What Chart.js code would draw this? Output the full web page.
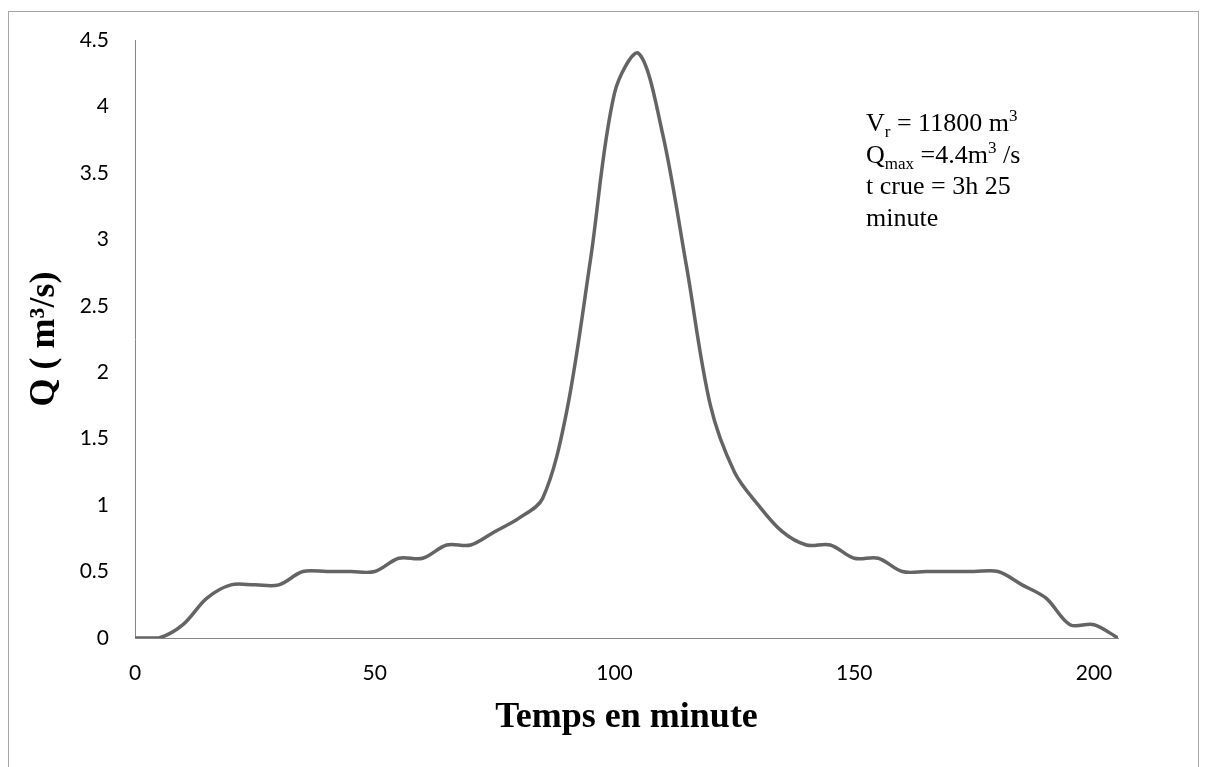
<!DOCTYPE html>
<html>
<head>
<meta charset="utf-8">
<script src="https://cdn.jsdelivr.net/npm/chart.js@4"></script>
<style>
  body { margin: 0; background: #fff; }
  #cadre { position: absolute; left: 8px; top: 11px; width: 1189px; height: 800px; border: 1px solid #a6a6a6; }
  #zone { position: absolute; left: 0; top: 0; }
  #note { position: absolute; left: 866px; top: 107px; font-family: "Liberation Serif", serif; font-size: 26px; line-height: 31.5px; color: #000; }
  #note sub, #note sup { font-size: 17px; line-height: 0; position: relative; vertical-align: baseline; }
  #note sub { top: 6px; }
  #note sup { top: -10px; }
</style>
</head>
<body>
<div id="cadre"></div>
<canvas id="zone" width="1207" height="767"></canvas>
<div id="note">
  <div>V<sub>r</sub> = 11800 m<sup>3</sup></div>
  <div>Q<sub>max</sub> =4.4m<sup>3</sup> /s</div>
  <div>t crue = 3h 25</div>
  <div>minute</div>
</div>
<script>
const temps = [0, 5, 10, 15, 20, 25, 30, 35, 40, 45, 50, 55, 60, 65, 70, 75, 80, 85, 90, 95, 100,
  105, 110, 115, 120, 125, 130, 135, 140, 145, 150, 155, 160, 165, 170, 175, 180, 185, 190, 195, 200, 205];
const debits = [0, 0, 0.1, 0.3, 0.4, 0.4, 0.4, 0.5, 0.5, 0.5, 0.5, 0.6, 0.6, 0.7, 0.7, 0.8, 0.9, 1.05, 1.7, 2.85, 4.1,
  4.4, 3.8, 2.8, 1.75, 1.25, 1.0, 0.8, 0.7, 0.7, 0.6, 0.6, 0.5, 0.5, 0.5, 0.5, 0.5, 0.4, 0.3, 0.1, 0.1, 0];
const ticksX = [0, 50, 100, 150, 200];
const ticksY = [0, 0.5, 1, 1.5, 2, 2.5, 3, 3.5, 4, 4.5];

const couleurAxe = '#868686';
const policeTicks = { family: 'Lato', size: 21 };
const policeTitre = { family: 'Liberation Serif', size: 36, weight: 'bold' };

const points = temps.map((t, i) => ({ x: t, y: debits[i] }));

new Chart(document.getElementById('zone').getContext('2d'), {
  type: 'scatter',
  data: {
    datasets: [{
      data: points,
      showLine: true,
      borderColor: '#646464',
      borderWidth: 3.5,
      pointRadius: 0,
      tension: 0.33,
      fill: false
    }]
  },
  options: {
    responsive: false,
    animation: false,
    events: [],
    layout: { padding: { top: 40, right: 89, left: 0, bottom: 0 } },
    plugins: { legend: { display: false }, tooltip: { enabled: false } },
    scales: {
      x: {
        type: 'linear',
        min: 0,
        max: 205,
        afterBuildTicks: s => { s.ticks = ticksX.map(v => ({ value: v })); },
        afterFit: s => { s.height = 129; },
        grid: { display: false, drawTicks: false },
        border: { display: true, color: couleurAxe, width: 1 },
        ticks: { font: policeTicks, color: '#000', padding: 23, maxRotation: 0, autoSkip: false },
        title: {
          display: true,
          text: 'Temps en minute',
          color: '#000',
          font: policeTitre,
          padding: { top: 0, bottom: 28 }
        }
      },
      y: {
        min: 0,
        max: 4.5,
        afterBuildTicks: s => { s.ticks = ticksY.map(v => ({ value: v })); },
        afterFit: s => { s.width = 135; },
        grid: { display: false, drawTicks: false },
        border: { display: true, color: couleurAxe, width: 1 },
        ticks: { font: policeTicks, color: '#000', padding: 26, callback: v => String(v) },
        title: {
          display: true,
          text: 'Q ( m³/s)',
          color: '#000',
          font: policeTitre,
          padding: { top: 23, bottom: 0 }
        }
      }
    }
  }
});
</script>
</body>
</html>
